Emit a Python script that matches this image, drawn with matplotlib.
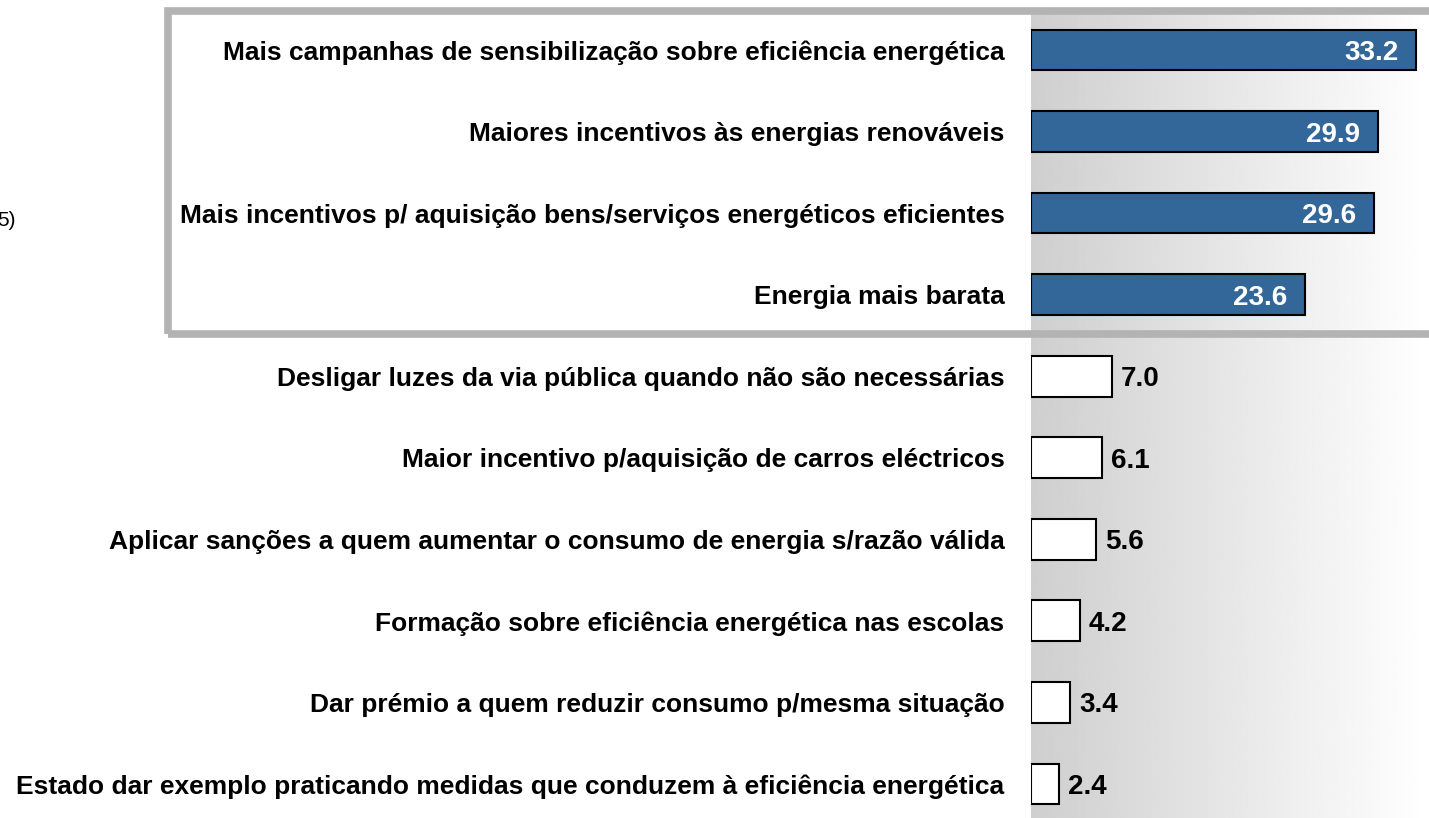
import numpy as np
import matplotlib
matplotlib.use("Agg")
import matplotlib.pyplot as plt
from matplotlib.patches import Rectangle
import matplotlib.transforms as mtransforms

plt.rcParams['font.family'] = ['Liberation Sans', 'DejaVu Sans']

categories = [
    "Mais campanhas de sensibilização sobre eficiência energética",
    "Maiores incentivos às energias renováveis",
    "Mais incentivos p/ aquisição bens/serviços energéticos eficientes",
    "Energia mais barata",
    "Desligar luzes da via pública quando não são necessárias",
    "Maior incentivo p/aquisição de carros eléctricos",
    "Aplicar sanções a quem aumentar o consumo de energia s/razão válida",
    "Formação sobre eficiência energética nas escolas",
    "Dar prémio a quem reduzir consumo p/mesma situação",
    "Estado dar exemplo praticando medidas que conduzem à eficiência energética",
]
values = [33.2, 29.9, 29.6, 23.6, 7.0, 6.1, 5.6, 4.2, 3.4, 2.4]
highlighted = [True, True, True, True, False, False, False, False, False, False]

W, H = 1429, 818
fig = plt.figure(figsize=(W / 100, H / 100), dpi=100)

# axes: left edge at 1031 px, full height
ax_left = 1031 / W
ax = fig.add_axes([ax_left, 0, 1 - ax_left, 1])
px_per_unit = 11.6
xmax = (W - 1031) / px_per_unit
spacing = 81.55
top_off = 50 / spacing
ymax = (H - 50) / spacing
ax.set_xlim(0, xmax)
ax.set_ylim(ymax, -top_off)

# gradient background panel
grad = np.linspace(0.81, 1.0, 256).reshape(1, -1)
y_grad_top = (12 - 50) / spacing
ax.imshow(grad, cmap='gray', vmin=0, vmax=1, aspect='auto',
          extent=(0, xmax, ymax, y_grad_top), zorder=0, interpolation='bilinear')

y = np.arange(len(values))
colors = ['#336699' if h else 'white' for h in highlighted]
ax.barh(y, values, height=0.5, color=colors, edgecolor='black', linewidth=1.5, zorder=2)

for yi, v, h in zip(y, values, highlighted):
    if h:
        off = mtransforms.offset_copy(ax.transData, fig=fig, x=-18, y=0, units='dots')
        ax.text(v, yi, f"{v:.1f}", ha='right', va='center_baseline', color='white',
                fontsize=20, fontweight='bold', transform=off, zorder=3)
    else:
        off = mtransforms.offset_copy(ax.transData, fig=fig, x=9, y=0, units='dots')
        ax.text(v, yi, f"{v:.1f}", ha='left', va='center_baseline', color='black',
                fontsize=20, fontweight='bold', transform=off, zorder=3)

ax.set_yticks(y)
ax.set_yticklabels(categories, fontsize=19, fontweight='bold')
ax.tick_params(axis='y', length=0, pad=19)
ax.set_xticks([])
for s in ax.spines.values():
    s.set_visible(False)

# gray frame around the top four items
frame = Rectangle((168 / W, 1 - 334 / H), (W + 20 - 168) / W, (334 - 11) / H,
                  transform=fig.transFigure, fill=False, edgecolor='#b3b3b3',
                  linewidth=5.5, zorder=5, clip_on=False)
fig.patches.append(frame)

# cut-off text on the far left
fig.text(16 / W, 1 - 221 / H, "5)", ha='right', va='center', fontsize=15)

fig.savefig("out.png", dpi=100)
